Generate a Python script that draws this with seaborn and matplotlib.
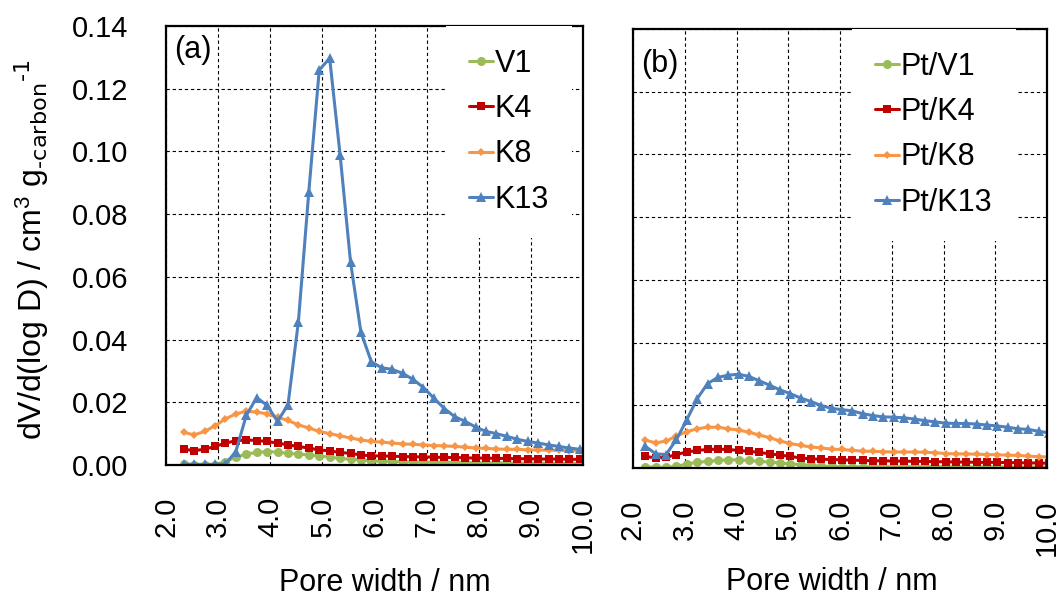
import matplotlib
matplotlib.use("Agg")
import matplotlib.pyplot as plt
import numpy as np
import pandas as pd
import seaborn as sns

# Pore width (nm) at which each distribution was sampled
pore_a = [2.34, 2.54, 2.74, 2.94, 3.14, 3.34, 3.54, 3.74, 3.94, 4.14,
          4.34, 4.54, 4.74, 4.94, 5.14, 5.34, 5.54, 5.74, 5.94, 6.14,
          6.34, 6.54, 6.74, 6.94, 7.14, 7.34, 7.54, 7.74, 7.94, 8.14,
          8.34, 8.54, 8.74, 8.94, 9.14, 9.34, 9.54, 9.74, 9.94, 10.14]
pore_b = [2.24, 2.44, 2.64, 2.84, 3.04, 3.24, 3.44, 3.64, 3.84, 4.04,
          4.24, 4.44, 4.64, 4.84, 5.04, 5.24, 5.44, 5.64, 5.84, 6.04,
          6.24, 6.44, 6.64, 6.84, 7.04, 7.24, 7.44, 7.64, 7.84, 8.04,
          8.24, 8.44, 8.64, 8.84, 9.04, 9.24, 9.44, 9.64, 9.84, 10.04]

# (a) carbon supports, dV/d(log D) in cm3 g-1
v1 = [0.0002, 0.0000, 0.0000, 0.0001, 0.0011, 0.0025, 0.0035, 0.0040, 0.0043, 0.0041,
      0.0037, 0.0035, 0.0032, 0.0029, 0.0025, 0.0021, 0.0018, 0.0016, 0.0013, 0.0012,
      0.0011, 0.0010, 0.0010, 0.0009, 0.0009, 0.0008, 0.0008, 0.0008, 0.0007, 0.0007,
      0.0007, 0.0006, 0.0006, 0.0006, 0.0006, 0.0005, 0.0005, 0.0005, 0.0005, 0.0005]
k4 = [0.0050, 0.0046, 0.0050, 0.0059, 0.0070, 0.0077, 0.0080, 0.0078, 0.0075, 0.0070,
      0.0064, 0.0059, 0.0054, 0.0048, 0.0045, 0.0040, 0.0037, 0.0032, 0.0029, 0.0029,
      0.0028, 0.0027, 0.0026, 0.0026, 0.0025, 0.0024, 0.0024, 0.0023, 0.0022, 0.0022,
      0.0021, 0.0021, 0.0020, 0.0020, 0.0019, 0.0019, 0.0019, 0.0018, 0.0018, 0.0018]
k8 = [0.0104, 0.0096, 0.0107, 0.0125, 0.0147, 0.0163, 0.0171, 0.0169, 0.0163, 0.0152,
      0.0142, 0.0128, 0.0118, 0.0107, 0.0100, 0.0093, 0.0086, 0.0080, 0.0075, 0.0073,
      0.0070, 0.0067, 0.0066, 0.0064, 0.0062, 0.0061, 0.0059, 0.0057, 0.0054, 0.0053,
      0.0051, 0.0050, 0.0050, 0.0048, 0.0048, 0.0047, 0.0047, 0.0046, 0.0045, 0.0045]
k13 = [0.0003, 0.0002, 0.0002, 0.0002, 0.0003, 0.0043, 0.0158, 0.0215, 0.0190, 0.0139,
       0.0192, 0.0457, 0.0872, 0.1260, 0.1297, 0.0989, 0.0648, 0.0423, 0.0329, 0.0310,
       0.0305, 0.0292, 0.0273, 0.0247, 0.0213, 0.0180, 0.0154, 0.0139, 0.0121, 0.0107,
       0.0100, 0.0091, 0.0082, 0.0075, 0.0070, 0.0064, 0.0059, 0.0054, 0.0050, 0.0048]

# (b) Pt-loaded catalysts
pt_v1 = [0.0004, 0.0002, 0.0002, 0.0005, 0.0013, 0.0018, 0.0021, 0.0024, 0.0026, 0.0026,
         0.0024, 0.0021, 0.0019, 0.0016, 0.0013, 0.0011, 0.0008, 0.0006, 0.0005, 0.0004,
         0.0004, 0.0004, 0.0004, 0.0004, 0.0004, 0.0004, 0.0004, 0.0004, 0.0004, 0.0004,
         0.0003, 0.0003, 0.0003, 0.0003, 0.0003, 0.0003, 0.0003, 0.0003, 0.0003, 0.0003]
pt_k4 = [0.0037, 0.0032, 0.0034, 0.0043, 0.0051, 0.0056, 0.0059, 0.0060, 0.0059, 0.0056,
         0.0053, 0.0050, 0.0045, 0.0041, 0.0037, 0.0032, 0.0029, 0.0028, 0.0027, 0.0026,
         0.0025, 0.0024, 0.0023, 0.0023, 0.0022, 0.0022, 0.0021, 0.0021, 0.0020, 0.0020,
         0.0019, 0.0019, 0.0018, 0.0018, 0.0018, 0.0017, 0.0017, 0.0016, 0.0016, 0.0015]
pt_k8 = [0.0089, 0.0080, 0.0086, 0.0102, 0.0116, 0.0125, 0.0130, 0.0130, 0.0125, 0.0121,
         0.0114, 0.0105, 0.0097, 0.0086, 0.0078, 0.0072, 0.0067, 0.0064, 0.0060, 0.0059,
         0.0056, 0.0054, 0.0053, 0.0052, 0.0051, 0.0051, 0.0051, 0.0050, 0.0049, 0.0046,
         0.0045, 0.0045, 0.0044, 0.0043, 0.0042, 0.0041, 0.0040, 0.0038, 0.0036, 0.0035]
pt_k13 = [0.0069, 0.0045, 0.0043, 0.0091, 0.0154, 0.0221, 0.0269, 0.0289, 0.0296, 0.0299,
          0.0292, 0.0278, 0.0264, 0.0249, 0.0237, 0.0223, 0.0212, 0.0199, 0.0190, 0.0186,
          0.0182, 0.0173, 0.0167, 0.0163, 0.0162, 0.0160, 0.0156, 0.0151, 0.0147, 0.0143,
          0.0142, 0.0142, 0.0140, 0.0137, 0.0134, 0.0130, 0.0125, 0.0123, 0.0117, 0.0112]

labels_a = ["V1", "K4", "K8", "K13"]
labels_b = ["Pt/V1", "Pt/K4", "Pt/K8", "Pt/K13"]
x_ticks = [2.0, 3.0, 4.0, 5.0, 6.0, 7.0, 8.0, 9.0, 10.0]
y_ticks = [0.00, 0.02, 0.04, 0.06, 0.08, 0.10, 0.12, 0.14]

sns.set_style("white")
plt.rcParams["font.family"] = ["Liberation Sans", "DejaVu Sans"]
plt.rcParams["mathtext.default"] = "regular"
for key in ("text.color", "axes.labelcolor", "xtick.color", "ytick.color"):
    plt.rcParams[key] = "black"

colors = ["#9BBB59", "#C00000", "#F79646", "#4F81BD"]
markers = ["o", "s", "D", "^"]
msizes = [6.5, 5.5, 4.5, 6.5]
FS = 22
TFS = 21

fig = plt.figure(figsize=(10.62, 5.99), dpi=100)
ax_a = fig.add_axes([166 / 1062, 1 - 465 / 599, 417 / 1062, 439 / 599])
ax_b = fig.add_axes([633 / 1062, 1 - 468 / 599, 414 / 1062, 439 / 599])


def draw_panel(ax, x, series, labels, tag, legend_right, tag_y, xlabel_x, xlabel_y):
    for vals, lab, col, mk, ms in zip(series, labels, colors, markers, msizes):
        df = pd.DataFrame({"width": x, "dv": vals})
        sns.lineplot(data=df, x="width", y="dv", ax=ax, color=col, marker=mk,
                     markersize=ms, markeredgewidth=0, linewidth=2.2,
                     label=lab, sort=False, estimator=None)
    ax.set_xlim(2.0, 10.0)
    ax.set_ylim(0.0, 0.14)
    ax.set_xticks(x_ticks)
    ax.set_xticklabels([f"{t:.1f}" for t in x_ticks], rotation=90,
                       fontsize=TFS, va="top")
    ax.set_yticks(y_ticks)
    ax.grid(True, color="black", linestyle=(0, (3, 2.5)), linewidth=0.8)
    ax.set_axisbelow(True)
    for sp in ax.spines.values():
        sp.set_visible(True)
        sp.set_color("black")
        sp.set_linewidth(1.6)
    ax.tick_params(axis="x", length=0, pad=23)
    ax.tick_params(axis="y", length=0, pad=27, labelsize=TFS)
    ax.set_xlabel("Pore width / nm", fontsize=FS)
    ax.xaxis.set_label_coords(xlabel_x, xlabel_y)
    ax.set_ylabel("")
    ax.text(0.02, tag_y, tag, transform=ax.transAxes, fontsize=FS,
            ha="left", va="center")
    leg = ax.legend(loc="upper right", bbox_to_anchor=(legend_right, 1.0),
                    fontsize=FS, frameon=True, fancybox=False, framealpha=1,
                    facecolor="white", edgecolor="none", borderaxespad=0,
                    handlelength=0.8, handletextpad=0.05, labelspacing=0.5,
                    borderpad=0.75)
    leg.set_zorder(5)


draw_panel(ax_a, pore_a, [v1, k4, k8, k13], labels_a, "(a)", 0.974, 0.945,
           0.525, -0.235)
draw_panel(ax_b, pore_b, [pt_v1, pt_k4, pt_k8, pt_k13], labels_b, "(b)", 0.924, 0.92,
           0.48, -0.226)

ax_a.yaxis.set_major_formatter(matplotlib.ticker.FormatStrFormatter("%.2f"))
ax_b.set_yticklabels([])
ax_b.tick_params(axis="y", pad=0)

ax_a.set_ylabel(r"dV/d(log D) / cm$^{3}$ g$_{\text{-carbon}}$$^{\text{-1}}$", fontsize=23)
ax_a.yaxis.set_label_coords(-0.275, 0.49)

fig.savefig("out.png", dpi=100)
